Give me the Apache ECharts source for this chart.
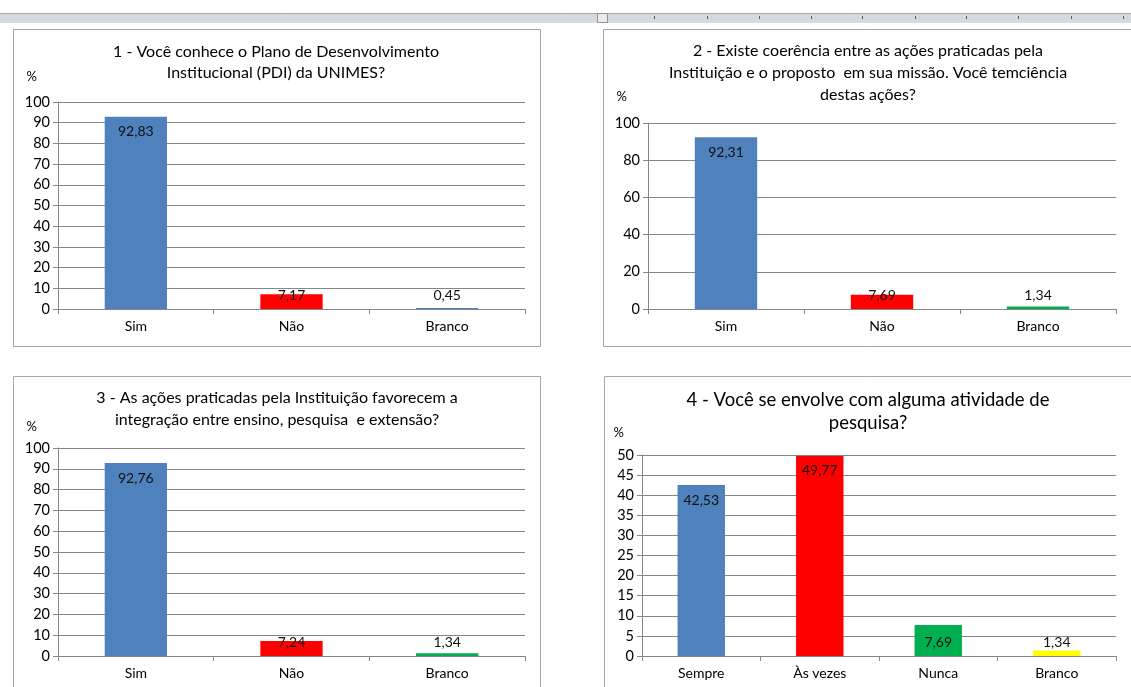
<!DOCTYPE html>
<html>
<head>
<meta charset="utf-8">
<script src="https://cdn.jsdelivr.net/npm/echarts@6/dist/echarts.min.js"></script>
<style>
  html, body { margin: 0; padding: 0; background: #fff; }
  #main { width: 1131px; height: 687px; }
</style>
</head>
<body>
<div id="main"></div>
<script>
// categorias e valores (%)
var catsSimNao = ['Sim', 'Não', 'Branco'];
var q1Values = [92.83, 7.17, 0.45];
var q2Values = [92.31, 7.69, 1.34];
var q3Values = [92.76, 7.24, 1.34];
var catsFreq = ['Sempre', 'Às vezes', 'Nunca', 'Branco'];
var q4Values = [42.53, 49.77, 7.69, 1.34];

var q1Title = '1 - Você conhece o Plano de Desenvolvimento\nInstitucional (PDI) da UNIMES?';
var q2Title = '2 - Existe coerência entre as ações praticadas pela\nInstituição e o proposto  em sua missão. Você temciência\ndestas ações?';
var q3Title = '3 - As ações praticadas pela Instituição favorecem a\nintegração entre ensino, pesquisa  e extensão?';
var q4Title = '4 - Você se envolve com alguma atividade de\npesquisa?';

var BLUE = '#4f81bd', RED = '#ff0000', GREEN = '#00b050', YELLOW = '#ffff00';
var q1Colors = [BLUE, RED, BLUE];
var q2Colors = [BLUE, RED, GREEN];
var q3Colors = [BLUE, RED, GREEN];
var q4Colors = [BLUE, RED, GREEN, YELLOW];

var FONT = 'Lato, "Open Sans", sans-serif';
var GRAY = '#868686';

function fmt(v) { return v.toFixed(2).replace('.', ','); }

function barData(values, colors) {
  return values.map(function (v, i) {
    var big = v > 20;
    return {
      value: v,
      itemStyle: { color: colors[i] },
      label: big
        ? { position: 'insideTop', distance: 8 }
        : { position: 'insideBottom', distance: 7 }
    };
  });
}

function xAxis(idx, cats) {
  return {
    type: 'category', gridIndex: idx, data: cats,
    axisLine: { lineStyle: { color: GRAY } },
    axisTick: { show: true, length: 5, lineStyle: { color: GRAY } },
    axisLabel: { color: '#000', fontFamily: FONT, fontSize: 14, margin: 10 }
  };
}

function yAxis(idx, max, interval, gap, pad) {
  return {
    type: 'value', gridIndex: idx, min: 0, max: max, interval: interval,
    name: '%', nameLocation: 'end', nameGap: gap,
    nameTextStyle: { color: '#000', fontFamily: FONT, fontSize: 13, align: 'right', verticalAlign: 'middle', padding: [0, pad, 0, 0] },
    axisLine: { show: true, lineStyle: { color: GRAY } },
    axisTick: { show: true, length: 5, lineStyle: { color: GRAY } },
    axisLabel: { color: '#000', fontFamily: FONT, fontSize: 14.5, margin: 8 },
    splitLine: { show: true, lineStyle: { color: GRAY, width: 1 } }
  };
}

function series(idx, values, colors) {
  return {
    type: 'bar', xAxisIndex: idx, yAxisIndex: idx,
    barWidth: '40%',
    data: barData(values, colors),
    label: {
      show: true, color: '#111', fontFamily: FONT, fontSize: 14,
      formatter: function (p) { return fmt(p.value); }
    }
  };
}

function title(text, cx, top, size, lh) {
  return {
    text: text, left: cx, top: top, textAlign: 'center', padding: 0,
    textStyle: { color: '#000', fontFamily: FONT, fontSize: size, fontWeight: 'normal', lineHeight: lh }
  };
}

// decoração: régua no topo e molduras
var deco = [
  { type: 'rect', shape: { x: 0, y: 13, width: 1131, height: 10 }, style: { fill: '#d6d9dd' }, silent: true },
  { type: 'line', shape: { x1: 0, y1: 13.5, x2: 1131, y2: 13.5 }, style: { stroke: '#a6a9ad', lineWidth: 1 }, silent: true },
  { type: 'rect', shape: { x: 597.5, y: 13.5, width: 10, height: 9 }, style: { fill: '#e8eaec', stroke: '#8e9196', lineWidth: 1 }, silent: true },
  { type: 'rect', shape: { x: 13.5, y: 29.5, width: 527, height: 317 }, style: { fill: 'none', stroke: '#a8a8a8', lineWidth: 1 }, silent: true },
  { type: 'rect', shape: { x: 603.5, y: 29.5, width: 540, height: 317 }, style: { fill: 'none', stroke: '#a8a8a8', lineWidth: 1 }, silent: true },
  { type: 'rect', shape: { x: 13.5, y: 376.5, width: 527, height: 330 }, style: { fill: 'none', stroke: '#a8a8a8', lineWidth: 1 }, silent: true },
  { type: 'rect', shape: { x: 604.5, y: 376.5, width: 540, height: 330 }, style: { fill: 'none', stroke: '#a8a8a8', lineWidth: 1 }, silent: true }
];
[654, 707, 759, 811, 862, 915, 966, 1018, 1071, 1123].forEach(function (x) {
  deco.push({ type: 'line', shape: { x1: x + 0.5, y1: 16, x2: x + 0.5, y2: 19 }, style: { stroke: '#55585c', lineWidth: 1 }, silent: true });
});

var chart = echarts.init(document.getElementById('main'));
chart.setOption({
  backgroundColor: '#fff',
  animation: false,
  graphic: deco,
  title: [
    title(q1Title, 276, 41, 16, 21),
    title(q2Title, 868, 40, 16, 22),
    title(q3Title, 277, 387, 16, 22),
    title(q4Title, 868, 389, 18.5, 23)
  ],
  grid: [
    { left: 58, top: 102, width: 467, height: 207 },
    { left: 648, top: 123, width: 468, height: 186 },
    { left: 58, top: 448, width: 467, height: 208 },
    { left: 642, top: 455, width: 474, height: 201 }
  ],
  xAxis: [xAxis(0, catsSimNao), xAxis(1, catsSimNao), xAxis(2, catsSimNao), xAxis(3, catsFreq)],
  yAxis: [yAxis(0, 100, 10, 25, 21), yAxis(1, 100, 20, 26, 21), yAxis(2, 100, 10, 21, 21), yAxis(3, 50, 5, 22, 18)],
  series: [
    series(0, q1Values, q1Colors),
    series(1, q2Values, q2Colors),
    series(2, q3Values, q3Colors),
    series(3, q4Values, q4Colors)
  ]
});
</script>
</body>
</html>
